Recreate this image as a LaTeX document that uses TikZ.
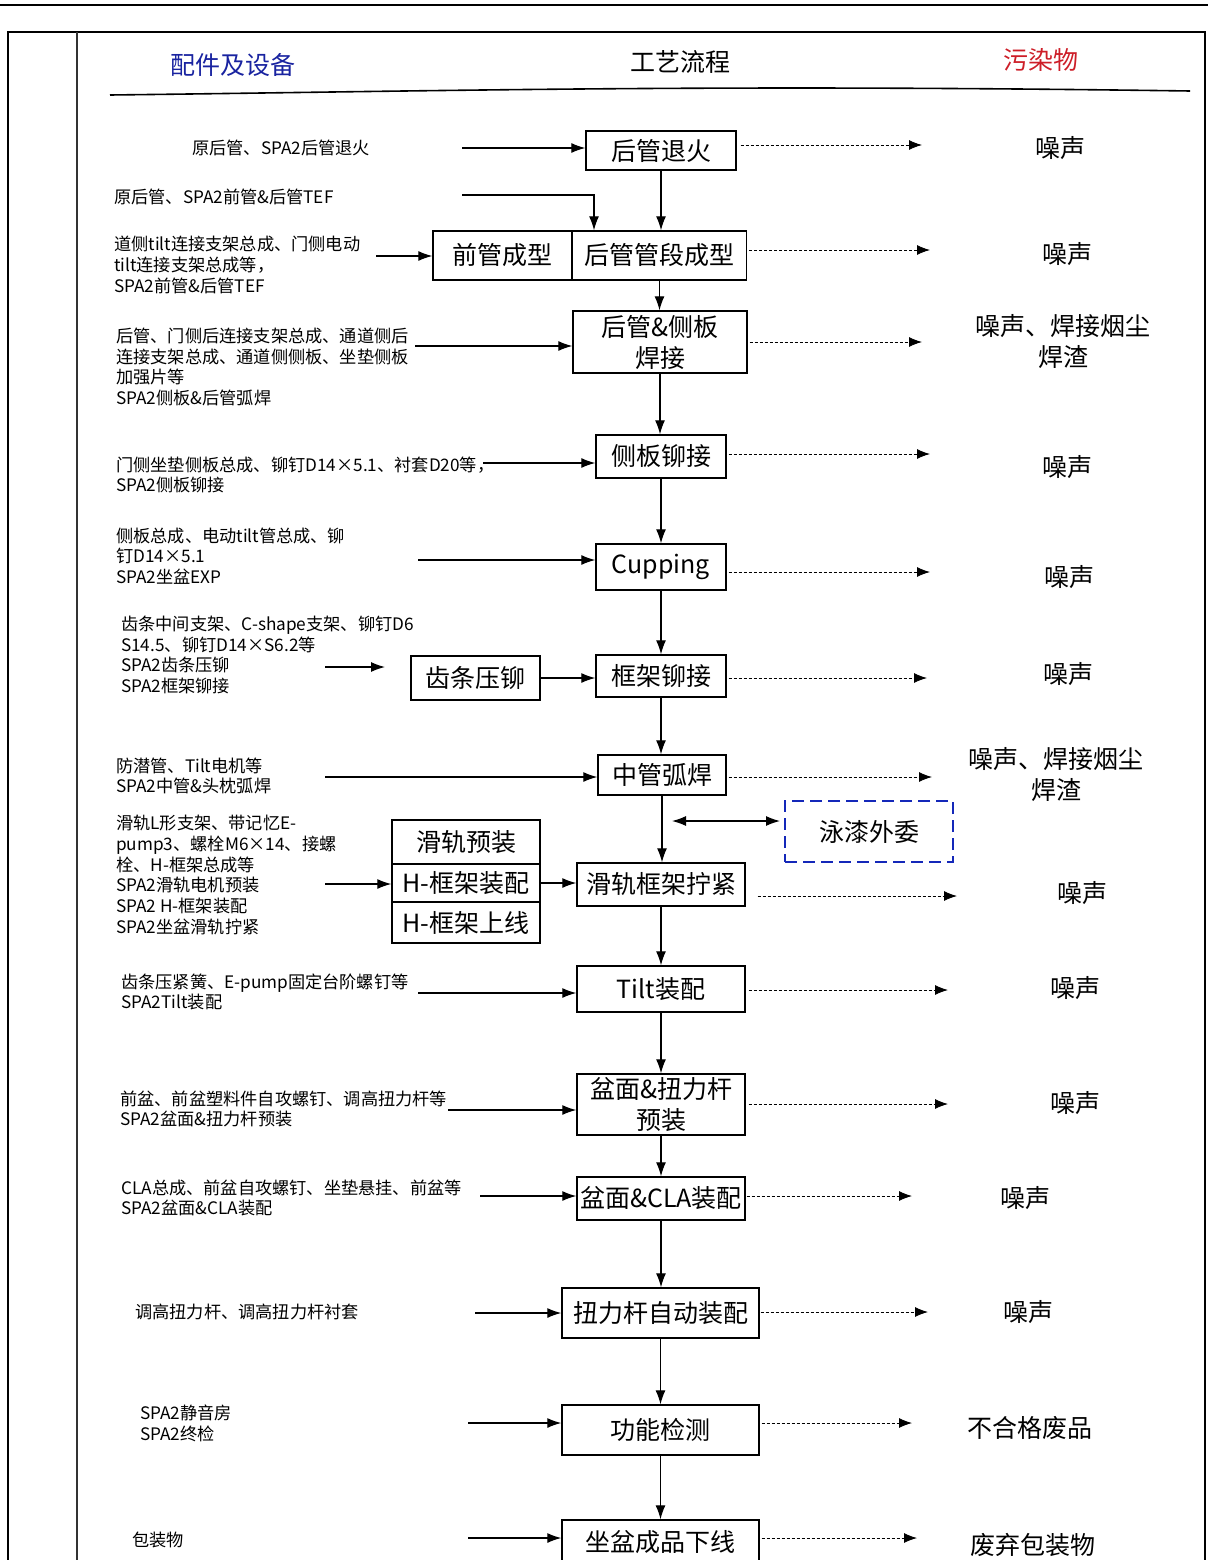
\documentclass[tikz,border=0pt]{standalone}
\usepackage{fontspec}
\setmainfont{Noto Sans CJK SC}
\usetikzlibrary{arrows.meta, positioning}
\definecolor{hdrblue}{RGB}{25,35,160}
\definecolor{hdrred}{RGB}{205,30,40}
\definecolor{subblue}{RGB}{20,40,185}
\newcommand*{\partfnt}{\fontsize{17.2}{20.8}\selectfont}
\newcommand*{\boxfnt}{\fontsize{25}{31}\selectfont}

\tikzset{
 proc/.style={draw, line width=1.4pt, inner sep=0pt, align=center, font=\boxfnt},
 feed/.style={-{Latex[length=14pt,width=10pt]}, line width=1.2pt},
 emis/.style={-{Latex[length=13pt,width=10pt]}, line width=0.9pt, dash pattern=on 3pt off 2pt},
 part/.style={inner sep=0pt, anchor=west, align=left, font=\partfnt},
 waste/.style={inner sep=0pt, align=center, font=\boxfnt},
}

\begin{document}
\begin{tikzpicture}[x=1pt, y=-1pt]
 \useasboundingbox (0,0) rectangle (1208,1560);
 \clip (0,0) rectangle (1208,1560);
 % frame
 \draw[line width=2pt] (0,5) -- (1208,5);
 \draw[line width=2.6pt] (8,1562) -- (8,32) -- (1205,32) -- (1205,1562);
 \draw[line width=1.4pt, black!80] (77,32) -- (77,1562);
 \draw[line width=1.6pt] (110,95) .. controls (450,91) and (700,84) .. (1190,91);
 % headers
 \node[font=\fontsize{25}{30}\selectfont, text=hdrblue] (h1) at (233,65) {配件及设备};
 \node[font=\fontsize{25}{30}\selectfont] (h2) at (680,62) {工艺流程};
 \node[font=\fontsize{25}{30}\selectfont, text=hdrred] (h3) at (1041,60) {污染物};

 % process boxes
 \node[proc, minimum width=150pt, minimum height=39pt] (b1) at (661,150.5) {后管退火};
 \node[proc, minimum width=139pt, minimum height=49pt] (b2a) at (502.5,255.5) {前管成型};
 \node[proc, minimum width=174pt, minimum height=49pt] (b2) at (659.5,255.5) {后管管段成型};
 \node[proc, minimum width=174pt, minimum height=62pt] (b3) at (660,342) {后管\&侧板\\焊接};
 \node[proc, minimum width=130pt, minimum height=43pt] (b4) at (661,456.5) {侧板铆接};
 \node[proc, minimum width=130pt, minimum height=46pt] (b5) at (661,567) {Cupping};
 \node[proc, minimum width=130pt, minimum height=42pt] (b6) at (661,676) {框架铆接};
 \node[proc, minimum width=129pt, minimum height=44pt] (b6a) at (475.5,678) {齿条压铆};
 \node[proc, minimum width=128pt, minimum height=40pt] (b7) at (662,775) {中管弧焊};
 \node[proc, draw=subblue, line width=2.4pt, dash pattern=on 12pt off 6pt,
  minimum width=168pt, minimum height=61pt] (bw) at (869,831.5) {泳漆外委};
 \node[proc, minimum width=168pt, minimum height=43pt] (b8) at (661,884.5) {滑轨框架拧紧};
 \node[proc, minimum width=148pt, minimum height=44pt] (s1) at (466,842) {滑轨预装};
 \node[proc, minimum width=148pt, minimum height=38pt] (s2) at (466,883) {H-框架装配};
 \node[proc, minimum width=148pt, minimum height=41pt] (s3) at (466,922.5) {H-框架上线};
 \node[proc, minimum width=168pt, minimum height=46pt] (b9) at (661,989) {Tilt装配};
 \node[proc, minimum width=168pt, minimum height=61pt] (b10) at (661,1104.5) {盆面\&扭力杆\\预装};
 \node[proc, minimum width=168pt, minimum height=43pt] (b11) at (661,1198.5) {盆面\&CLA装配};
 \node[proc, minimum width=197pt, minimum height=50pt] (b12) at (660.5,1313) {扭力杆自动装配};
 \node[proc, minimum width=197pt, minimum height=50pt] (b13) at (660.5,1430) {功能检测};
 \node[proc, minimum width=197pt, minimum height=44pt] (b14) at (660.5,1542) {坐盆成品下线};

 % parts and equipment
 \node[part] (t1) at (192,148) {原后管、SPA2后管退火};
 \node[part] (t2) at (114,197) {原后管、SPA2前管\&后管TEF};
 \node[part] (t3) at (114,265) {道侧tilt连接支架总成、门侧电动\\tilt连接支架总成等，\\SPA2前管\&后管TEF};
 \node[part] (t4) at (116,367) {后管、门侧后连接支架总成、通道侧后\\连接支架总成、通道侧侧板、坐垫侧板\\加强片等\\SPA2侧板\&后管弧焊};
 \node[part] (t5) at (116,475) {门侧坐垫侧板总成、铆钉D14×5.1、衬套D20等，\\SPA2侧板铆接};
 \node[part] (t6) at (116,556) {侧板总成、电动tilt管总成、铆\\钉D14×5.1\\SPA2坐盆EXP};
 \node[part] (t7) at (121,655) {齿条中间支架、C-shape支架、铆钉D6\\S14.5、铆钉D14×S6.2等\\SPA2齿条压铆\\SPA2框架铆接};
 \node[part] (t8) at (116,776) {防潜管、Tilt电机等\\SPA2中管\&头枕弧焊};
 \node[part] (t9) at (116,875) {滑轨L形支架、带记忆E-\\pump3、螺栓M6×14、接螺\\栓、H-框架总成等\\SPA2滑轨电机预装\\SPA2 H-框架装配\\SPA2坐盆滑轨拧紧};
 \node[part] (t10) at (121,992) {齿条压紧簧、E-pump固定台阶螺钉等\\SPA2Tilt装配};
 \node[part] (t11) at (120,1109) {前盆、前盆塑料件自攻螺钉、调高扭力杆等\\SPA2盆面\&扭力杆预装};
 \node[part] (t12) at (121,1198) {CLA总成、前盆自攻螺钉、坐垫悬挂、前盆等\\SPA2盆面\&CLA装配};
 \node[part] (t13) at (135,1312) {调高扭力杆、调高扭力杆衬套};
 \node[part] (t14) at (140,1423) {SPA2静音房\\SPA2终检};
 \node[part] (t15) at (132,1540) {包装物};

 % pollutants
 \node[waste] (p1) at (1060,148) {噪声};
 \node[waste] (p2) at (1067,254) {噪声};
 \node[waste] (p3) at (1063,342) {噪声、焊接烟尘\\焊渣};
 \node[waste] (p4) at (1067,467) {噪声};
 \node[waste] (p5) at (1069,577) {噪声};
 \node[waste] (p6) at (1068,674) {噪声};
 \node[waste] (p7) at (1056,775) {噪声、焊接烟尘\\焊渣};
 \node[waste] (p8) at (1082,893) {噪声};
 \node[waste] (p9) at (1075,988) {噪声};
 \node[waste] (p10) at (1075,1103) {噪声};
 \node[waste] (p11) at (1025,1198) {噪声};
 \node[waste] (p12) at (1028,1312) {噪声};
 \node[waste] (p13) at (1030,1428) {不合格废品};
 \node[waste] (p14) at (1033,1545) {废弃包装物};

 % free ends
 \coordinate (i1) at (462,148);
 \coordinate (i2) at (462,195);
 \coordinate (c2) at (594,195);
 \coordinate (i3) at (376,256);
 \coordinate (i4) at (415,346);
 \coordinate (i5) at (483,463);
 \coordinate (i6) at (418,560);
 \coordinate (i7) at (325,667);
 \coordinate (j7) at (385,667);
 \coordinate (i8) at (325,777);
 \coordinate (i9) at (325,884);
 \coordinate (i10) at (418,993);
 \coordinate (i11) at (448,1110);
 \coordinate (i12) at (480,1196);
 \coordinate (i13) at (475,1313);
 \coordinate (i14) at (468,1423);
 \coordinate (i15) at (468,1538);
 \coordinate (m1) at (672,821);
 \coordinate (m2) at (780,821);
 \coordinate (o1) at (922,145);
 \coordinate (o2) at (930,250);
 \coordinate (o3) at (922,342);
 \coordinate (o4) at (930,454);
 \coordinate (o5) at (930,572);
 \coordinate (o6) at (927,678);
 \coordinate (o7) at (932,777);
 \coordinate (o8) at (957,896);
 \coordinate (o9) at (948,990);
 \coordinate (o10) at (948,1104);
 \coordinate (o11) at (912,1196);
 \coordinate (o12) at (928,1312);
 \coordinate (o13) at (912,1423);
 \coordinate (o14) at (917,1538);

 % main flow
 \foreach \a/\b in {b1/b2, b2/b3, b3/b4, b4/b5, b5/b6, b6/b7, b7/b8, b8/b9, b9/b10, b10/b11, b11/b12, b12/b13, b13/b14}
  \draw[feed] (\a.south) -- (\a.south |- \b.north);
 % inputs
 \foreach \c/\b in {i1/b1, i3/b2a, i4/b3, i5/b4, i6/b5, i8/b7, i9/s2, i10/b9, i11/b10, i12/b11, i13/b12, i14/b13, i15/b14}
  \draw[feed] (\c) -- (\c -| \b.west);
 \draw[feed] (i2) -- (c2) -- (c2 |- b2.north);
 \draw[feed] (i7) -- (j7);
 \draw[feed] (b6a.east) -- (b6a.east -| b6.west);
 \draw[feed] (s2.east) -- (s2.east -| b8.west);
 \draw[{Latex[length=14pt,width=10pt]}-{Latex[length=14pt,width=10pt]}, line width=1.2pt] (m1) -- (m2);
 % emissions
 \foreach \b/\o/\g in {b1/o1/4, b2/o2/2, b3/o3/2, b4/o4/2, b5/o5/2, b6/o6/2, b7/o7/2, b8/o8/12, b9/o9/3, b10/o10/3, b11/o11/1, b12/o12/1, b13/o13/2, b14/o14/2}
  \draw[emis] ([xshift=\g pt]\b.east |- \o) -- (\o);
\end{tikzpicture}
\end{document}
